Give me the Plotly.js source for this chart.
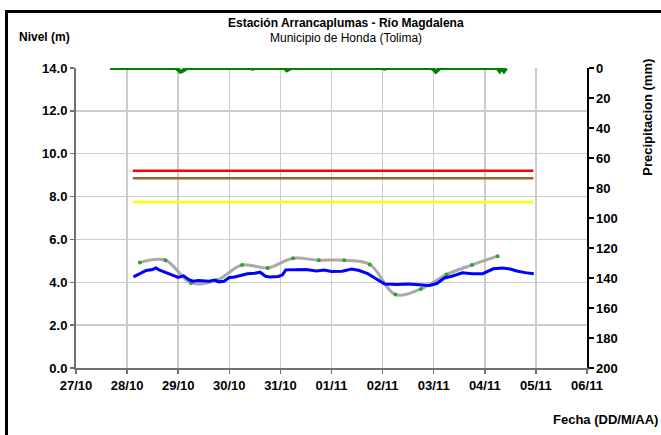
<!DOCTYPE html>
<html>
<head>
<meta charset="utf-8">
<script src="https://cdn.plot.ly/plotly-3.0.1.min.js"></script>
<style>
html,body{margin:0;padding:0;overflow:hidden;background:#fff;}
#chart{width:661px;height:435px;position:relative;}
#frame{position:absolute;left:5px;top:10px;width:700px;height:500px;border-left:3px solid #000;border-top:3px solid #000;pointer-events:none;}
</style>
</head>
<body>
<div id="chart"></div>
<div id="frame"></div>
<script>
// Nivel (m) - observed water level
const levelTimes = [
 "2011-10-28 03:00","2011-10-28 06:00","2011-10-28 09:00","2011-10-28 12:00","2011-10-28 13:30",
 "2011-10-28 15:00","2011-10-28 18:00","2011-10-28 21:00","2011-10-29 00:00","2011-10-29 02:30",
 "2011-10-29 05:00","2011-10-29 07:00","2011-10-29 09:30","2011-10-29 12:00","2011-10-29 14:30",
 "2011-10-29 17:00","2011-10-29 19:00","2011-10-29 21:30","2011-10-30 00:00","2011-10-30 02:30",
 "2011-10-30 05:00","2011-10-30 08:30","2011-10-30 12:00","2011-10-30 14:30","2011-10-30 17:00",
 "2011-10-30 19:00","2011-10-30 23:00","2011-10-31 01:00","2011-10-31 02:30","2011-10-31 07:00",
 "2011-10-31 12:00","2011-10-31 17:00","2011-10-31 20:30","2011-11-01 00:00","2011-11-01 05:00",
 "2011-11-01 09:30","2011-11-01 13:00","2011-11-01 17:00","2011-11-01 20:30","2011-11-02 00:00",
 "2011-11-02 01:00","2011-11-02 07:00","2011-11-02 12:00","2011-11-02 17:00","2011-11-02 22:00",
 "2011-11-03 01:30","2011-11-03 05:00","2011-11-03 08:30","2011-11-03 13:30","2011-11-03 18:00",
 "2011-11-03 23:00","2011-11-04 04:00","2011-11-04 08:30","2011-11-04 12:00","2011-11-04 15:00",
 "2011-11-04 19:00","2011-11-04 23:00"
];
const levelValues = [
 4.25,4.40,4.55,4.60,4.67,
 4.58,4.48,4.35,4.23,4.30,
 4.12,4.05,4.08,4.07,4.05,
 4.10,4.02,4.05,4.22,4.25,
 4.32,4.40,4.42,4.47,4.28,
 4.25,4.27,4.35,4.58,4.58,
 4.60,4.53,4.57,4.50,4.52,
 4.62,4.55,4.40,4.20,3.98,
 3.92,3.90,3.92,3.88,3.85,
 3.94,4.20,4.28,4.44,4.40,
 4.40,4.63,4.67,4.62,4.53,
 4.45,4.40
];

// Pronóstico (forecast points)
const forecastTimes = [
 "2011-10-28 06:00","2011-10-28 18:00","2011-10-29 06:00","2011-10-29 18:00","2011-10-30 06:00",
 "2011-10-30 18:00","2011-10-31 06:00","2011-10-31 18:00","2011-11-01 06:00","2011-11-01 18:00",
 "2011-11-02 06:00","2011-11-02 18:00","2011-11-03 06:00","2011-11-03 18:00","2011-11-04 06:00"
];
const forecastValues = [4.92,5.03,3.97,4.09,4.81,4.67,5.12,5.03,5.03,4.83,3.43,3.69,4.36,4.81,5.22];

// Umbrales (threshold levels)
const thresholdTimes = ["2011-10-28 02:40","2011-11-04 22:50"];
const redLevel = 9.2;
const brownLevel = 8.85;
const yellowLevel = 7.75;

// Precipitación (mm)
const precipTimes = [
 "2011-10-27 16:00","2011-10-28 23:00","2011-10-29 00:00","2011-10-29 01:00","2011-10-29 02:00",
 "2011-10-29 03:00","2011-10-29 04:00","2011-10-30 10:00","2011-10-30 11:00","2011-10-30 12:00",
 "2011-10-31 02:00","2011-10-31 03:00","2011-10-31 04:00","2011-10-31 05:00","2011-11-01 10:00",
 "2011-11-01 11:00","2011-11-01 12:00","2011-11-02 00:00","2011-11-02 01:00","2011-11-02 02:00",
 "2011-11-02 23:00","2011-11-03 00:00","2011-11-03 01:00","2011-11-03 02:00","2011-11-03 03:00",
 "2011-11-04 06:00","2011-11-04 07:00","2011-11-04 08:00","2011-11-04 09:00","2011-11-04 10:00"
];
const precipValues = [
 0,0,1.0,2.5,2.0,
 1.0,0,0,0.4,0,
 0,1.5,1.0,0,0,
 0.3,0,0,0.4,0,
 0,1.0,2.5,1.2,0,
 0,2.0,0,2.0,0
];

const yTicks = [0,2,4,6,8,10,12,14];
const y2Ticks = [0,20,40,60,80,100,120,140,160,180,200];

const F = "Liberation Sans, Arial, sans-serif";

const traces = [
 {x: thresholdTimes, y: [redLevel, redLevel], mode: "lines", line: {color: "#ff0000", width: 2.5}, yaxis: "y"},
 {x: thresholdTimes, y: [brownLevel, brownLevel], mode: "lines", line: {color: "#996633", width: 2.5}, yaxis: "y"},
 {x: thresholdTimes, y: [yellowLevel, yellowLevel], mode: "lines", line: {color: "#ffff00", width: 2.5}, yaxis: "y"},
 {x: forecastTimes, y: forecastValues, mode: "lines", line: {color: "#aaaaaa", width: 3, shape: "spline", smoothing: 1}, yaxis: "y"},
 {x: forecastTimes, y: forecastValues, mode: "markers", marker: {color: "#33a02c", size: 4}, yaxis: "y"},
 {x: levelTimes, y: levelValues, mode: "lines", line: {color: "#0000ff", width: 3}, yaxis: "y"},
 {x: precipTimes, y: precipValues, mode: "lines", line: {color: "#008000", width: 4}, yaxis: "y2"}
];

const layout = {
 width: 661, height: 435,
 margin: {l: 76, r: 74, t: 68, b: 67, pad: 0},
 paper_bgcolor: "#ffffff", plot_bgcolor: "#ffffff",
 showlegend: false,
 font: {family: F, size: 12, color: "#000"},
 xaxis: {
  type: "date", range: ["2011-10-27 00:00", "2011-11-06 00:00"],
  tickmode: "linear", tick0: "2011-10-27", dtick: 86400000, tickformat: "%d/%m",
  showgrid: true, gridcolor: "#cccccc", gridwidth: 1.5,
  showline: true, linecolor: "#707070", linewidth: 2,
  ticks: "outside", ticklen: 4, tickcolor: "#707070", tickwidth: 1.5,
  tickfont: {family: F, size: 13, weight: "bold", color: "#000"}, zeroline: false
 },
 yaxis: {
  range: [0, 14], tickmode: "array", tickvals: yTicks, tickformat: ".1f",
  showgrid: true, gridcolor: "#cccccc", gridwidth: 1.5,
  showline: true, linecolor: "#707070", linewidth: 2,
  ticks: "outside", ticklen: 4, tickcolor: "#707070", tickwidth: 1.5,
  tickfont: {family: F, size: 13, weight: "bold", color: "#000"}, zeroline: false
 },
 yaxis2: {
  overlaying: "y", side: "right", range: [200, 0], tickmode: "array", tickvals: y2Ticks,
  showgrid: false, showline: true, linecolor: "#000", linewidth: 1.5,
  ticks: "outside", ticklen: 5, tickcolor: "#000", tickwidth: 1.5,
  tickfont: {family: F, size: 13, weight: "bold", color: "#000"}, zeroline: false
 },
 annotations: [
  {xref: "paper", yref: "paper", x: 0.528, y: 1.15, text: "<b>Estación Arrancaplumas - Río Magdalena</b>", showarrow: false, xanchor: "center", yanchor: "middle", font: {family: F, size: 12}},
  {xref: "paper", yref: "paper", x: 0.528, y: 1.10, text: "Municipio de Honda (Tolima)", showarrow: false, xanchor: "center", yanchor: "middle", font: {family: F, size: 12}},
  {xref: "paper", yref: "paper", x: -0.1155, y: 1.103, text: "<b>Nivel (m)</b>", showarrow: false, xanchor: "left", yanchor: "middle", font: {family: F, size: 12}},
  {xref: "paper", yref: "paper", x: 1.119, y: 0.837, text: "<b>Precipitacion (mm)</b>", textangle: -90, showarrow: false, xanchor: "center", yanchor: "middle", font: {family: F, size: 13}},
  {xref: "paper", yref: "paper", x: 1.143, y: -0.173, text: "<b>Fecha (DD/M/AA)</b>", showarrow: false, xanchor: "right", yanchor: "middle", font: {family: F, size: 13}}
 ]
};

Plotly.newPlot("chart", traces, layout, {displayModeBar: false, staticPlot: true});
</script>
</body>
</html>
